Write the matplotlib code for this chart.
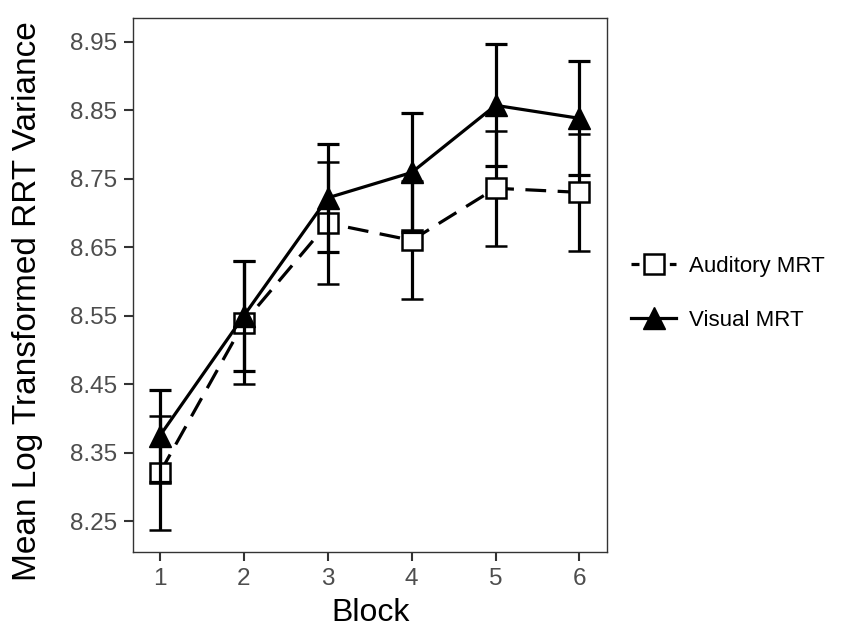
import numpy as np, matplotlib
matplotlib.use("Agg")
import matplotlib.pyplot as plt
from matplotlib.lines import Line2D

plt.rcParams["font.family"] = ["Liberation Sans", "DejaVu Sans"]

blocks = [1, 2, 3, 4, 5, 6]
auditory_mean = [8.321, 8.540, 8.685, 8.660, 8.736, 8.730]
auditory_err = [0.083, 0.090, 0.089, 0.086, 0.084, 0.085]
visual_mean = [8.375, 8.550, 8.722, 8.759, 8.857, 8.838]
visual_err = [0.067, 0.080, 0.079, 0.087, 0.089, 0.083]
yticks = [8.25, 8.35, 8.45, 8.55, 8.65, 8.75, 8.85, 8.95]

def main():
    fig = plt.figure(figsize=(8.48, 6.31), dpi=100)
    ax = fig.add_axes([0.157, 0.125, 0.559, 0.846])

    ax.errorbar(blocks, auditory_mean, yerr=auditory_err, color="black", lw=2.3,
                ls=(0, (6.5, 3.6)), marker="s", ms=14, mfc="white", mec="black", mew=1.8,
                capsize=8, capthick=2.3, elinewidth=2.3, zorder=3)
    ax.errorbar(blocks, visual_mean, yerr=visual_err, color="black", lw=2.3,
                ls="-", marker="^", ms=16, mfc="black", mec="black",
                capsize=8, capthick=2.3, elinewidth=2.3, zorder=4)

    ax.set_xlim(0.68, 6.33)
    ax.set_ylim(8.205, 8.984)
    ax.set_xticks(blocks)
    ax.set_yticks(yticks)
    ax.set_yticklabels([f"{v:.2f}" for v in yticks])
    ax.tick_params(labelsize=17.5, labelcolor="#4D4D4D", color="#333333", length=6.5, width=1.5, pad=5)
    for s in ax.spines.values():
        s.set_color("#333333")
        s.set_linewidth(1)
    ax.set_xlabel("Block", fontsize=23, labelpad=6)
    ax.set_ylabel("Mean Log Transformed RRT Variance", fontsize=24, va="center")
    ax.yaxis.set_label_coords(-0.222, 0.47)

    handles = [
        Line2D([], [], color="black", lw=2.3, ls=(0, (2.5, 1.5)), marker="s", ms=14,
               mfc="white", mec="black", mew=1.8),
        Line2D([], [], color="black", lw=2.3, ls="-", marker="^", ms=16, mfc="black"),
    ]
    fig.legend(handles, ["Auditory MRT", "Visual MRT"], loc="center left",
               bbox_to_anchor=(0.721, 0.535), frameon=False, fontsize=16,
               handlelength=2.0, handletextpad=0.6, labelspacing=1.5)

    plt.savefig("out.png", dpi=100)

if __name__ == "__main__":
    main()
